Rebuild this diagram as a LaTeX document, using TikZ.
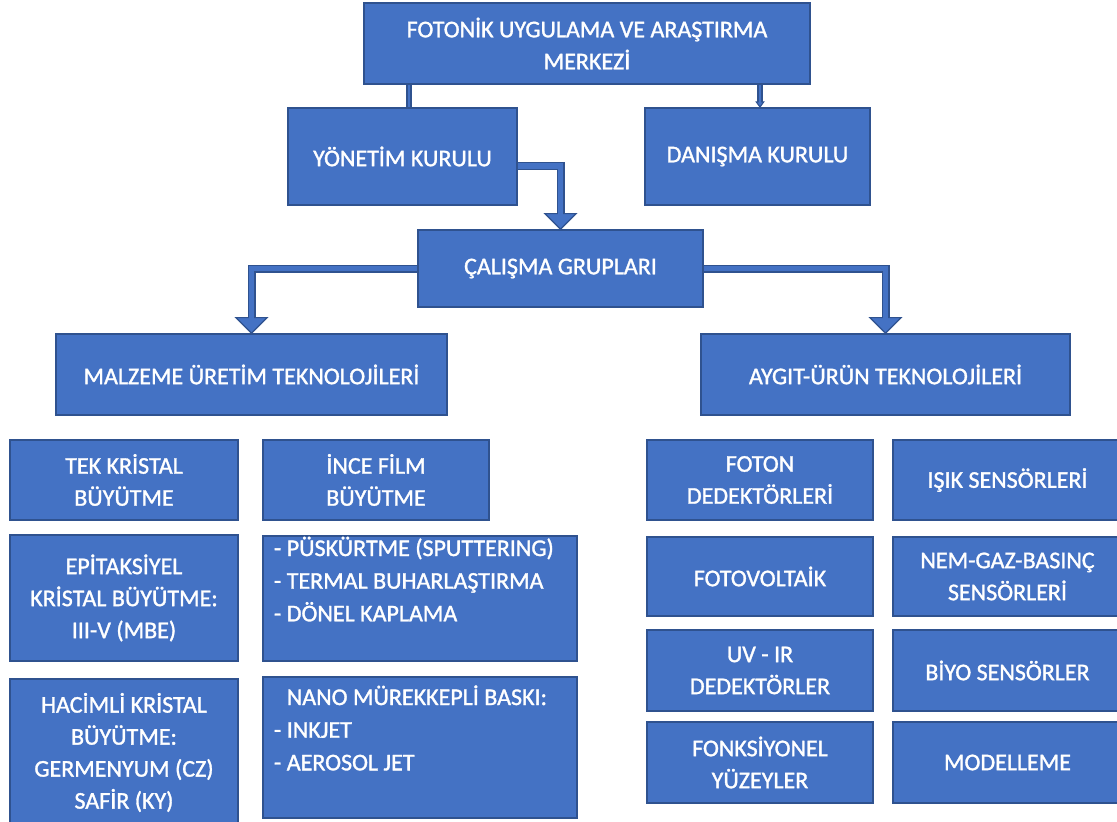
\documentclass[tikz,border=0pt]{standalone}
\usepackage{fontspec}
\setmainfont[FakeBold=1.3]{Carlito}
\usetikzlibrary{arrows.meta,calc}
\definecolor{boxblue}{HTML}{4472C4}
\definecolor{boxedge}{HTML}{2F528F}
\pgfdeclarelayer{bg}
\pgfsetlayers{bg,main}
\newcommand{\mybox}[6]{\node[box, minimum width={(#4-#2)*0.75pt}, minimum height={(#5-#3)*0.75pt}] (#1) at ({(#2+#4)/2},{(#3+#5)/2}) {#6};}
\newcommand{\fstrut}{\rule{0pt}{18pt}}
\begin{document}
\begin{tikzpicture}[x=0.75pt,y=-0.75pt,
  box/.style={draw=boxedge, fill=boxblue, line width=0.9pt, text=white, inner sep=0pt, outer sep=0pt, align=center, font=\fontsize{18}{24}\selectfont},
  listtxt/.style={text=white, inner sep=0pt, outer sep=0pt, align=left, anchor=north west, font=\fontsize{18}{24.5}\selectfont},
  shaftout/.style={draw=boxedge, line width=6pt, -{Triangle[width=25.5pt,length=12.75pt,line width=0.9pt,fill=boxblue]}},
  shaftin/.style={draw=boxblue, line width=3.9pt, shorten >=11pt},
  thinout/.style={draw=boxedge, line width=3.8pt},
  thinin/.style={draw=boxblue, line width=2pt}
]
\useasboundingbox (0,0) rectangle (1117,821);

\mybox{top}{364}{3}{810}{84}{FOTONİK UYGULAMA VE ARAŞTIRMA\\MERKEZİ}
\mybox{yon}{288}{108}{517}{205}{YÖNETİM KURULU}
\mybox{dan}{645}{108}{870}{205}{DANIŞMA KURULU}
\mybox{cal}{418}{230}{703}{307}{ÇALIŞMA GRUPLARI}
\mybox{mal}{56}{334}{447}{415}{MALZEME ÜRETİM TEKNOLOJİLERİ}
\mybox{ayg}{701}{334}{1070}{415}{AYGIT-ÜRÜN TEKNOLOJİLERİ}

\mybox{tek}{10}{440}{238}{520}{TEK KRİSTAL\\BÜYÜTME}
\mybox{epi}{10}{535}{238}{661}{EPİTAKSİYEL\\KRİSTAL BÜYÜTME:\\III-V (MBE)}
\mybox{hac}{10}{679}{238}{826}{HACİMLİ KRİSTAL\\BÜYÜTME:\\GERMENYUM (CZ)\\SAFİR (KY)}
\mybox{ince}{263}{440}{489}{520}{İNCE FİLM\\BÜYÜTME}
\mybox{pus}{263}{536}{577}{661}{}
\mybox{nano}{263}{677}{577}{818}{}
\node[listtxt] (pustxt) at ($(pus.north west)+(11,-4)$) {\fstrut- PÜSKÜRTME (SPUTTERING)\\- TERMAL BUHARLAŞTIRMA\\- DÖNEL KAPLAMA};
\node[listtxt] (nanotxt) at ($(nano.north west)+(11,4)$) {\fstrut\phantom{- }NANO MÜREKKEPLİ BASKI:\\- INKJET\\- AEROSOL JET};

\mybox{foton}{647}{440}{873}{520}{FOTON\\DEDEKTÖRLERİ}
\mybox{fv}{647}{537}{873}{616}{FOTOVOLTAİK}
\mybox{uvir}{647}{630}{873}{711}{UV - IR\\DEDEKTÖRLER}
\mybox{fonk}{647}{722}{873}{803}{FONKSİYONEL\\YÜZEYLER}
\mybox{isik}{893}{440}{1122}{520}{IŞIK SENSÖRLERİ}
\mybox{nem}{893}{537}{1122}{616}{NEM-GAZ-BASINÇ\\SENSÖRLERİ}
\mybox{biyo}{893}{630}{1122}{711}{BİYO SENSÖRLER}
\mybox{model}{893}{722}{1122}{803}{MODELLEME}

\begin{pgfonlayer}{bg}
  % thin connectors from the centre box
  \draw[thinout] (top.south -| 409,0) -- (409,0 |- yon.north);
  \draw[thinin]  (top.south -| 409,0) -- (409,0 |- yon.north);
  \draw[thinout, -{Triangle[width=7pt,length=5pt,line width=0.8pt,fill=boxblue]}] (top.south -| 760,0) -- (760,0 |- dan.north);
  \draw[thinin, shorten >=4pt] (top.south -| 760,0) -- (760,0 |- dan.north);
  % block elbow arrows
  \draw[shaftout] ($(yon.east)+(0,9.5)$) -| (cal.north);
  \draw[shaftin]  ($(yon.east)+(0,9.5)$) -| (cal.north);
  \draw[shaftout] (cal.west) -| (mal.north);
  \draw[shaftin]  (cal.west) -| (mal.north);
  \draw[shaftout] (cal.east) -| (ayg.north);
  \draw[shaftin]  (cal.east) -| (ayg.north);
\end{pgfonlayer}
\end{tikzpicture}
\end{document}
